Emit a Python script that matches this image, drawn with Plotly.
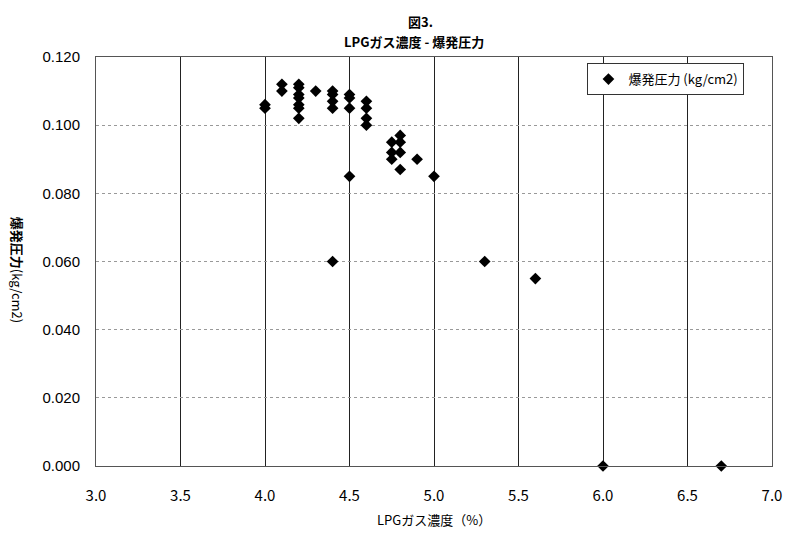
import plotly.graph_objects as go

# LPG concentration (%) vs explosion pressure (kg/cm2)
conc = [4.0, 4.0,
        4.1, 4.1,
        4.2, 4.2, 4.2, 4.2, 4.2, 4.2, 4.2,
        4.3,
        4.4, 4.4, 4.4, 4.4, 4.4,
        4.5, 4.5, 4.5, 4.5,
        4.6, 4.6, 4.6, 4.6,
        4.75, 4.75, 4.75,
        4.8, 4.8, 4.8, 4.8,
        4.9, 5.0, 5.3, 5.6, 6.0, 6.7]
pressure = [0.106, 0.105,
            0.112, 0.110,
            0.112, 0.111, 0.109, 0.108, 0.106, 0.105, 0.102,
            0.110,
            0.110, 0.109, 0.107, 0.105, 0.060,
            0.109, 0.108, 0.105, 0.085,
            0.107, 0.105, 0.102, 0.100,
            0.095, 0.092, 0.090,
            0.097, 0.095, 0.092, 0.087,
            0.090, 0.085, 0.060, 0.055, 0.000, 0.000]

x_ticks = [3.0, 3.5, 4.0, 4.5, 5.0, 5.5, 6.0, 6.5, 7.0]
y_ticks = [0.000, 0.020, 0.040, 0.060, 0.080, 0.100, 0.120]

jp = "Noto Sans CJK JP"

fig = go.Figure()
fig.add_trace(go.Scatter(
    x=conc, y=pressure, mode="markers",
    name="爆発圧力 (kg/cm2)",
    marker=dict(symbol="diamond", size=9, color="black"),
    cliponaxis=False,
))

# page body adds an 8px offset, so margins are shifted to line up with the scan
fig.update_layout(
    width=800, height=547,
    margin=dict(l=88, r=36, t=49, b=89, autoexpand=False),
    paper_bgcolor="white", plot_bgcolor="white",
    font=dict(family=jp, color="black"),
    showlegend=True,
    legend=dict(x=0.727, y=0.985, xanchor="left", yanchor="top",
                bgcolor="white", bordercolor="#333", borderwidth=1,
                itemwidth=30, tracegroupgap=0,
                font=dict(size=13, family=jp)),
)

fig.update_xaxes(
    range=[3.0, 7.0], tickvals=x_ticks, tickformat=".1f",
    showgrid=True, gridcolor="#222", gridwidth=1,
    showline=True, linecolor="#555", linewidth=1, mirror=True,
    zeroline=False, ticks="", ticklabelstandoff=16, automargin=False,
    tickfont=dict(size=15, family=jp),
)
fig.update_yaxes(
    range=[0.0, 0.12], tickvals=y_ticks, tickformat=".3f",
    showgrid=True, gridcolor="#999", gridwidth=1, griddash="dot",
    showline=True, linecolor="#555", linewidth=1, mirror=True,
    zeroline=False, ticks="", ticklabelstandoff=12, automargin=False,
    tickfont=dict(size=15, family="Liberation Sans"),
)

# two-line title
fig.add_annotation(text="<b>図3.</b>", xref="paper", yref="paper",
                   x=0.48, y=1.086, xanchor="center", yanchor="middle",
                   showarrow=False, font=dict(size=13, family=jp))
fig.add_annotation(text="<b>LPGガス濃度 - 爆発圧力</b>", xref="paper", yref="paper",
                   x=0.47, y=1.039, xanchor="center", yanchor="middle",
                   showarrow=False, font=dict(size=13, family=jp))

# x-axis title
fig.add_annotation(text="LPGガス濃度（%）", xref="paper", yref="paper",
                   x=0.5, y=-0.132, xanchor="center", yanchor="middle",
                   showarrow=False, font=dict(size=13, family=jp))

# vertical y-axis title reading top to bottom, as in the scan
fig.add_annotation(
    text="<b>爆発圧力</b>(kg/cm2)", textangle=90,
    xref="paper", yref="paper", x=-0.115, y=0.479,
    xanchor="center", yanchor="middle", showarrow=False,
    font=dict(size=13, family=jp),
)

fig.write_html("out.html")
